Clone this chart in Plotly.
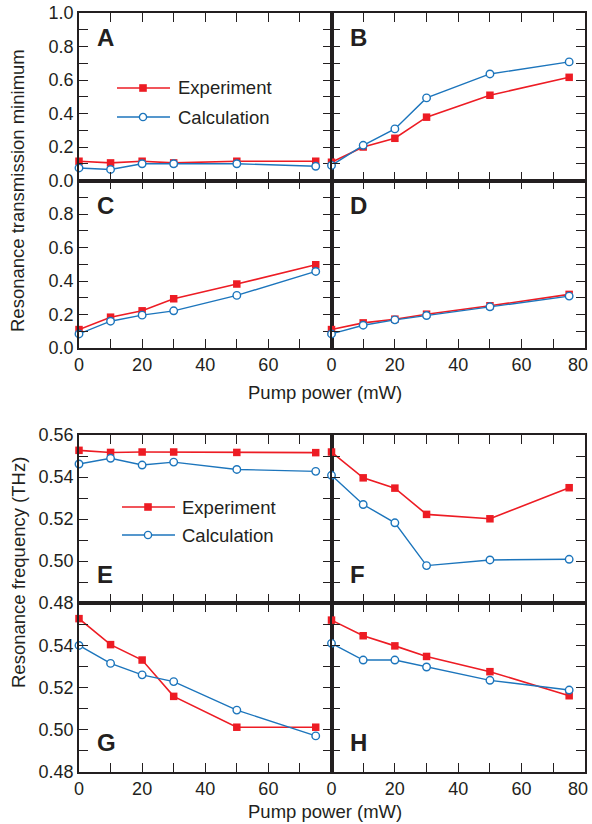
import plotly.graph_objects as go

# ---------------- data ----------------
power = [0, 10, 20, 30, 50, 75]

# Resonance transmission minimum
exp_A = [0.115, 0.105, 0.115, 0.105, 0.115, 0.115]
calc_A = [0.075, 0.066, 0.100, 0.100, 0.100, 0.085]
exp_B = [0.109, 0.200, 0.252, 0.378, 0.509, 0.616]
calc_B = [0.090, 0.210, 0.308, 0.493, 0.636, 0.708]
exp_C = [0.110, 0.184, 0.222, 0.294, 0.382, 0.497]
calc_C = [0.084, 0.160, 0.196, 0.222, 0.314, 0.457]
exp_D = [0.110, 0.150, 0.172, 0.202, 0.252, 0.320]
calc_D = [0.084, 0.136, 0.168, 0.194, 0.246, 0.310]

# Resonance frequency (THz)
exp_E = [0.5527, 0.5517, 0.5519, 0.5519, 0.5517, 0.5516]
calc_E = [0.5462, 0.5489, 0.5457, 0.5471, 0.5436, 0.5427]
exp_F = [0.5519, 0.5396, 0.5347, 0.5222, 0.5201, 0.5349]
calc_F = [0.5408, 0.5269, 0.5182, 0.4978, 0.5005, 0.5008]
exp_G = [0.5526, 0.5403, 0.5330, 0.5158, 0.5012, 0.5012]
calc_G = [0.5399, 0.5314, 0.5260, 0.5228, 0.5093, 0.4971]
exp_H = [0.5519, 0.5445, 0.5397, 0.5347, 0.5275, 0.5161]
calc_H = [0.5409, 0.5330, 0.5330, 0.5297, 0.5234, 0.5188]

x_ticks = [0, 10, 20, 30, 40, 50, 60, 70, 80]
x_labels_left = ["0", "", "20", "", "40", "", "60", "", ""]
x_labels_right = ["0", "", "20", "", "40", "", "60", "", ""]
x_label_end = "80"      # last tick label of the right panels (drawn flush with the edge)
trans_ticks = [0.0, 0.1, 0.2, 0.3, 0.4, 0.5, 0.6, 0.7, 0.8, 0.9, 1.0]
trans_labels_top = ["0.0", "", "0.2", "", "0.4", "", "0.6", "", "0.8", "", "1.0"]
trans_labels_bot = ["0.0", "", "0.2", "", "0.4", "", "0.6", "", "0.8", "", ""]
freq_ticks = [0.48, 0.49, 0.50, 0.51, 0.52, 0.53, 0.54, 0.55, 0.56]
freq_labels_top = ["0.48", "", "0.50", "", "0.52", "", "0.54", "", "0.56"]
freq_labels_bot = ["0.48", "", "0.50", "", "0.52", "", "0.54", "", ""]

series_names = ["Experiment", "Calculation"]
panel_letters = ["A", "B", "C", "D", "E", "F", "G", "H"]

# ---------------- styling ----------------
W, H = 592, 824
RED = "#ED1C24"
BLUE = "#1C75BC"
INK = "#231F20"
FONT = "Liberation Sans, Arial, Helvetica, sans-serif"
TICKFONT = 18
TITLEFONT = 18.5


def px_x(p):
    return p / W


def px_y(p):
    return 1 - p / H


XL = (79, 331.5)
XR = (331.5, 585)
rows_px = [(13, 180.5), (180.5, 348), (435, 603), (603, 772)]
xlabel_y = {1: 365, 3: 789}

panels = [
    ("A", exp_A, calc_A, 0, 0, "t"),
    ("B", exp_B, calc_B, 1, 0, "t"),
    ("C", exp_C, calc_C, 0, 1, "t"),
    ("D", exp_D, calc_D, 1, 1, "t"),
    ("E", exp_E, calc_E, 0, 2, "f"),
    ("F", exp_F, calc_F, 1, 2, "f"),
    ("G", exp_G, calc_G, 0, 3, "f"),
    ("H", exp_H, calc_H, 1, 3, "f"),
]

fig = go.Figure()
layout = {}
annotations = []

for i, (letter, ye, yc, col, row, kind) in enumerate(panels):
    n = i + 1
    xa = "x" if n == 1 else f"x{n}"
    ya = "y" if n == 1 else f"y{n}"
    xkey = "xaxis" if n == 1 else f"xaxis{n}"
    ykey = "yaxis" if n == 1 else f"yaxis{n}"
    xd = XL if col == 0 else XR
    top, bot = rows_px[row]

    fig.add_trace(go.Scatter(
        x=power, y=ye, xaxis=xa, yaxis=ya, mode="lines+markers",
        name=series_names[0], showlegend=False, cliponaxis=False,
        line=dict(color=RED, width=1.6),
        marker=dict(symbol="square", size=7.5, color=RED, line=dict(width=0)),
    ))
    fig.add_trace(go.Scatter(
        x=power, y=yc, xaxis=xa, yaxis=ya, mode="lines+markers",
        name=series_names[1], showlegend=False, cliponaxis=False,
        line=dict(color=BLUE, width=1.4),
        marker=dict(symbol="circle", size=7.5, color="white",
                    line=dict(color=BLUE, width=1.4)),
    ))

    bottom_row = row in (1, 3)
    if bottom_row:
        xt = x_labels_left if col == 0 else x_labels_right
        if col == 1:
            annotations.append(dict(
                text=x_label_end, x=x_ticks[-1], xref=xa, y=px_y(xlabel_y[row]),
                yref="paper", xanchor="right", yanchor="middle", xshift=5,
                showarrow=False, font=dict(family=FONT, size=TICKFONT, color=INK),
            ))
    else:
        xt = [""] * len(x_ticks)
    layout[xkey] = dict(
        domain=[px_x(xd[0]), px_x(xd[1])], anchor=ya, range=[0, 80],
        tickmode="array", tickvals=x_ticks, ticktext=xt,
        showticklabels=bottom_row, automargin=False, ticklabeloverflow="allow",
        ticks="inside", ticklen=9, tickwidth=1.4, tickcolor=INK,
        showline=True, linecolor=INK, linewidth=1.5, mirror="ticks",
        showgrid=False, zeroline=False,
        tickfont=dict(family=FONT, size=TICKFONT, color=INK),
    )
    if kind == "t":
        yv = trans_ticks
        ytxt = trans_labels_top if row == 0 else trans_labels_bot
        yr = [0, 1.0]
    else:
        yv = freq_ticks
        ytxt = freq_labels_top if row == 2 else freq_labels_bot
        yr = [0.48, 0.56]
    layout[ykey] = dict(
        domain=[px_y(bot), px_y(top)], anchor=xa, range=yr,
        tickmode="array", tickvals=yv, ticktext=ytxt,
        showticklabels=(col == 0), automargin=False, ticklabeloverflow="allow",
        ticks="inside", ticklen=9, tickwidth=1.4, tickcolor=INK,
        showline=True, linecolor=INK, linewidth=1.5, mirror="ticks",
        showgrid=False, zeroline=False,
        tickfont=dict(family=FONT, size=TICKFONT, color=INK),
    )

    lx = 95 if col == 0 else 348
    ly = [38, 205, 574, 742][row]
    annotations.append(dict(
        text=f"<b>{letter}</b>", x=px_x(lx), y=px_y(ly), xref="paper", yref="paper",
        xanchor="left", yanchor="middle", showarrow=False,
        font=dict(family=FONT, size=24, color=INK),
    ))

# axis titles
for txt, x, y, ang in [
    ("Pump power (mW)", 325, 393, 0),
    ("Pump power (mW)", 325, 811, 0),
    ("Resonance transmission minimum", 18, 191, -90),
    ("Resonance frequency (THz)", 18, 573, -90),
]:
    annotations.append(dict(
        text=txt, x=px_x(x), y=px_y(y), xref="paper", yref="paper",
        xanchor="center", yanchor="middle", showarrow=False, textangle=ang,
        font=dict(family=FONT, size=TITLEFONT, color=INK),
    ))

# in-panel legends (panel A and panel E)
shapes = []
for (x0, x1, xm, xt, y_exp, y_calc) in [(117, 170, 143, 176, 88, 117),
                                        (122, 175, 148, 180, 507, 535)]:
    shapes.append(dict(type="line", xref="paper", yref="paper",
                       x0=px_x(x0), x1=px_x(x1), y0=px_y(y_exp), y1=px_y(y_exp),
                       line=dict(color=RED, width=1.6)))
    shapes.append(dict(type="rect", xref="paper", yref="paper",
                       x0=px_x(xm - 3.8), x1=px_x(xm + 3.8),
                       y0=px_y(y_exp + 3.8), y1=px_y(y_exp - 3.8),
                       fillcolor=RED, line=dict(width=0)))
    shapes.append(dict(type="line", xref="paper", yref="paper",
                       x0=px_x(x0), x1=px_x(x1), y0=px_y(y_calc), y1=px_y(y_calc),
                       line=dict(color=BLUE, width=1.4)))
    shapes.append(dict(type="circle", xref="paper", yref="paper",
                       x0=px_x(xm - 3.6), x1=px_x(xm + 3.6),
                       y0=px_y(y_calc + 3.6), y1=px_y(y_calc - 3.6),
                       fillcolor="white", line=dict(color=BLUE, width=1.4)))
    for name, yy in zip(series_names, (y_exp, y_calc)):
        annotations.append(dict(
            text=name, x=px_x(xt), y=px_y(yy), xref="paper", yref="paper",
            xanchor="left", yanchor="middle", showarrow=False,
            font=dict(family=FONT, size=18.5, color=INK),
        ))

fig.update_layout(
    template="none",
    width=W, height=H, autosize=False,
    margin=dict(l=0, r=0, t=0, b=0, pad=0),
    paper_bgcolor="white", plot_bgcolor="white",
    showlegend=False,
    annotations=annotations, shapes=shapes,
    font=dict(family=FONT, color=INK),
    **layout,
)

# place the 592x824 figure flush with the page's top-left corner
fig.write_html("out.html",
               config={"displayModeBar": False},
               post_script="document.body.style.margin='0';document.body.style.overflow='hidden';")
